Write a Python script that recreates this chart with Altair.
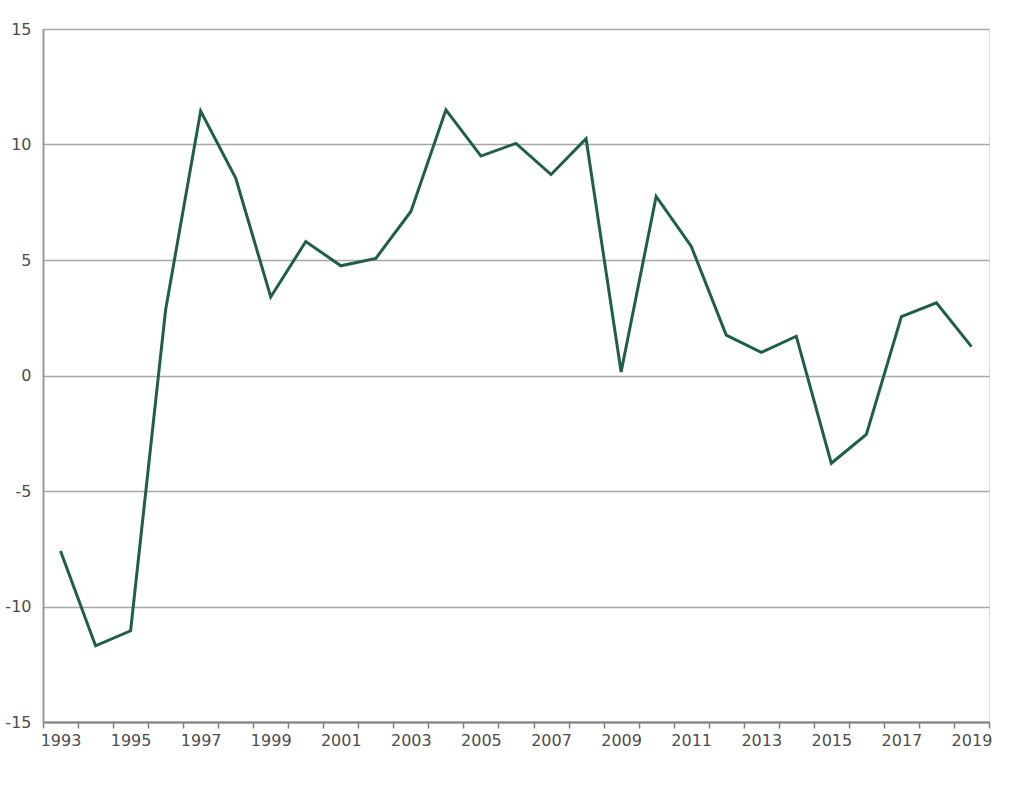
import altair as alt
import pandas as pd

years = list(range(1993, 2020))
values = [-7.6, -11.7, -11.05, 2.85, 11.45, 8.55, 3.4, 5.8, 4.75, 5.07,
          7.1, 11.5, 9.5, 10.05, 8.7, 10.25, 0.15, 7.75, 5.6, 1.75,
          1.0, 1.7, -3.8, -2.55, 2.55, 3.15, 1.25]

df = pd.DataFrame({"year": years, "value": values})

x_tick_values = [y - 0.5 for y in years] + [years[-1] + 0.5]
y_tick_values = [-15, -10, -5, 0, 5, 10, 15]

chart = alt.Chart(df).mark_line(color="#1f5f4a", strokeWidth=3, strokeJoin="miter").encode(
    x=alt.X(
        "year:Q",
        scale=alt.Scale(domain=[1992.5, 2019.5], nice=False, zero=False),
        axis=alt.Axis(
            title=None,
            values=x_tick_values,
            grid=False,
            tickSize=6,
            tickColor="#7f7f7f",
            tickWidth=1.5,
            domainColor="#7f7f7f",
            domainWidth=2,
            labelExpr="((datum.value + 0.5) % 2 == 1) ? toString(datum.value + 0.5) : ''",
            labelOffset=17.5,
            labelFlush=False,
            labelOverlap=False,
            labelPadding=4,
            labelFont="DejaVu Sans",
            labelFontSize=16,
            labelColor="#4d4d4d",
        ),
    ),
    y=alt.Y(
        "value:Q",
        scale=alt.Scale(domain=[-15, 15], nice=False),
        axis=alt.Axis(
            title=None,
            values=y_tick_values,
            grid=True,
            gridColor="#a6a6a6",
            gridWidth=1.5,
            tickSize=0,
            domainColor="#999999",
            domainWidth=2,
            labelExpr="toString(datum.value)",
            labelPadding=12,
            labelFont="DejaVu Sans",
            labelFontSize=16,
            labelColor="#4d4d4d",
        ),
    ),
).properties(
    width=946,
    height=693,
    autosize=alt.AutoSizeParams(type="none"),
    padding={"left": 43, "top": 29, "right": 41, "bottom": 65},
).configure_view(
    stroke="#d9d9d9",
    strokeWidth=1.5,
).configure(background="white")

chart.save("out.html", embed_options={"renderer": "svg", "actions": False})
